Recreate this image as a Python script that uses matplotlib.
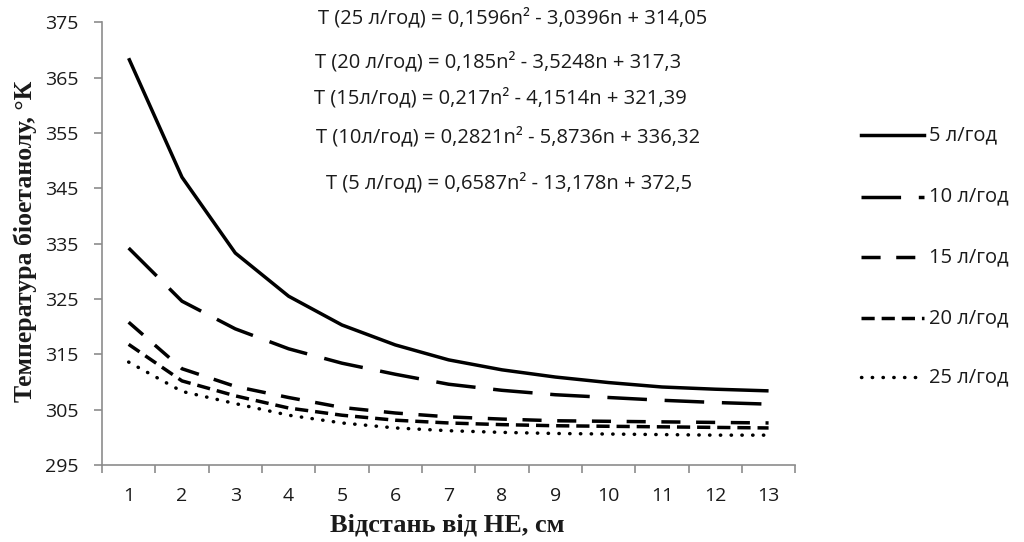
import numpy as np
import matplotlib.pyplot as plt
from matplotlib.lines import Line2D

# =========================================================
# DATA
# =========================================================

distance = list(range(1, 14))

t_5 = [368.5, 347.0, 333.3, 325.5, 320.3, 316.7, 314.0, 312.2, 310.9, 309.9, 309.1, 308.7, 308.4]
t_10 = [334.2, 324.6, 319.6, 316.0, 313.4, 311.4, 309.6, 308.5, 307.7, 307.2, 306.7, 306.3, 306.0]
t_15 = [320.8, 312.4, 309.2, 307.2, 305.4, 304.4, 303.7, 303.3, 303.0, 302.9, 302.8, 302.7, 302.6]
t_20 = [316.8, 310.2, 307.5, 305.3, 304.0, 303.1, 302.6, 302.3, 302.1, 302.0, 301.9, 301.8, 301.7]
t_25 = [313.6, 308.3, 306.1, 304.0, 302.6, 301.7, 301.2, 300.9, 300.7, 300.6, 300.5, 300.4, 300.4]

series_labels = ["5 л/год", "10 л/год", "15 л/год", "20 л/год", "25 л/год"]

equations = [
    "T (25 л/год) = 0,1596n² - 3,0396n + 314,05",
    "T (20 л/год) = 0,185n² - 3,5248n + 317,3",
    "T (15л/год) = 0,217n² - 4,1514n + 321,39",
    "T (10л/год) = 0,2821n² - 5,8736n + 336,32",
    "T (5 л/год) = 0,6587n² - 13,178n + 372,5",
]

y_ticks = [295, 305, 315, 325, 335, 345, 355, 365, 375]

# =========================================================
# STYLES
# =========================================================

LW = 2.5
styles = [
    dict(linestyle="-", linewidth=LW, dash_capstyle="butt"),
    dict(linestyle=(0, (11.4, 5.1)), linewidth=LW, dash_capstyle="butt"),
    dict(linestyle=(0, (5.5, 4.5)), linewidth=LW, dash_capstyle="butt"),
    dict(linestyle=(0, (3.8, 2.0)), linewidth=LW, dash_capstyle="butt"),
    dict(linestyle=(0, (0.1, 3.0)), linewidth=LW, dash_capstyle="round"),
]

font_txt = ["Open Sans", "DejaVu Sans"]
font_serif = ["Liberation Serif", "DejaVu Serif"]
txt_color = "#1a1a1a"

# =========================================================
# FIGURE
# =========================================================

fig = plt.figure(figsize=(10.24, 5.42), dpi=100)
ax = fig.add_axes([0.0996, 0.142, 0.677, 0.817])

all_series = [t_5, t_10, t_15, t_20, t_25]
for vals, st in zip(all_series, styles):
    ax.plot(distance, vals, color="black", solid_capstyle="butt", **st)

ax.set_xlim(0.5, 13.5)
ax.set_ylim(295, 375)
ax.set_yticks(y_ticks)
ax.set_xticks(distance)
ax.set_xticks(np.arange(0.5, 14.0, 1.0), minor=True)

for side in ["top", "right"]:
    ax.spines[side].set_visible(False)
for side in ["left", "bottom"]:
    ax.spines[side].set_color("#8c8c8c")
    ax.spines[side].set_linewidth(1.2)

ax.tick_params(axis="x", which="major", length=0, pad=16,
               labelsize=14, labelcolor=txt_color)
ax.tick_params(axis="x", which="minor", length=6, color="#8c8c8c", width=1.2)
ax.tick_params(axis="y", length=6, color="#8c8c8c", width=1.2, pad=11,
               labelsize=14, labelcolor=txt_color)
for lab in ax.get_xticklabels() + ax.get_yticklabels():
    lab.set_family(font_txt)

fig.text(0.437, 0.031, "Відстань від НЕ, см", ha="center", va="center",
         fontsize=19, fontweight="bold", family=font_serif, color=txt_color)
fig.text(0.025, 0.555, "Температура біоетанолу, °К", ha="center", va="center",
         rotation=90, fontsize=18.5, fontweight="bold", family=font_serif,
         color=txt_color)

# equations
eq_x = [0.501, 0.486, 0.489, 0.496, 0.497]
eq_y = [0.967, 0.886, 0.819, 0.747, 0.662]
for txt, xx, yy in zip(equations, eq_x, eq_y):
    fig.text(xx, yy, txt, ha="center", va="center",
             fontsize=14.5, family=font_txt, color=txt_color)

# legend (drawn by hand for exact placement)
leg_y = [0.751, 0.637, 0.526, 0.413, 0.304]
for lab, st, yy in zip(series_labels, styles, leg_y):
    fig.add_artist(Line2D([0.841, 0.902], [yy, yy], color="black",
                          transform=fig.transFigure, **st))
    fig.text(0.907, yy, lab, ha="left", va="center",
             fontsize=14.5, family=font_txt, color=txt_color)

fig.savefig("out.png", dpi=100)
